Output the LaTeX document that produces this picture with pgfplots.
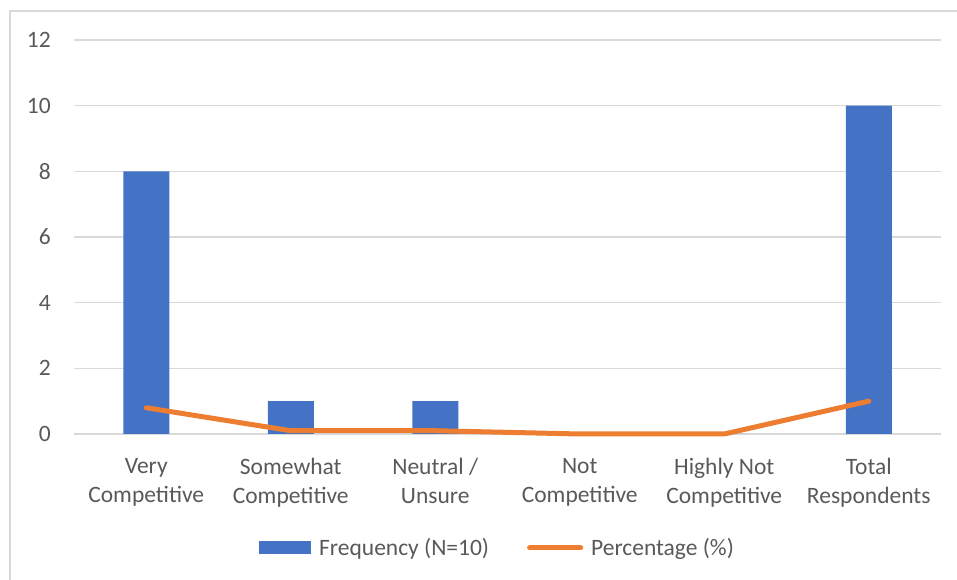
\documentclass[border=0pt]{standalone}
\usepackage{pgfplots}
\pgfplotsset{compat=1.18}
\usepackage{fontspec}
\setmainfont{Carlito}
\definecolor{barblue}{HTML}{4472C4}
\definecolor{lineorange}{HTML}{ED7D31}
\definecolor{gridgray}{HTML}{D9D9D9}
\definecolor{txtgray}{HTML}{595959}
\begin{document}
\begin{tikzpicture}[x=1pt,y=1pt,font=\fontsize{23.5}{29}\selectfont]
\path[use as bounding box] (0,0) rectangle (957,580);
\draw[gridgray, line width=1.5pt] (10,0) -- (10,569) -- (957,569);
\begin{axis}[
  at={(74pt,146pt)}, anchor=south west,
  scale only axis, width=867pt, height=394pt,
  xmin=-0.5, xmax=5.5, ymin=0, ymax=12,
  ytick={0,2,...,12},
  xtick={0,1,2,3,4,5},
  xticklabels={{Very\\Competitive},{Somewhat\\Competitive},{Neutral /\\Unsure},{Not\\Competitive},{Highly Not\\Competitive},{Total\\Respondents}},
  xticklabel style={align=center, anchor=north, inner sep=0pt, yshift=-24pt, text=txtgray},
  yticklabel style={anchor=east, inner sep=0pt, xshift=-23pt, text=txtgray},
  /pgf/number format/assume math mode=true,
  major tick length=0pt,
  axis line style={draw=none},
  ymajorgrids, grid style={gridgray, line width=1.3pt},
  clip=false,
  legend columns=2,
  legend style={at={(0.4885,-0.289)}, anchor=center, draw=none, fill=none, inner sep=0pt,
    text=txtgray, cells={anchor=west},
    /tikz/every odd column/.style={column sep=6pt},
    /tikz/every even column/.style={column sep=36pt}},
]
\addplot[ybar, bar width=46pt, fill=barblue, draw=none,
  legend image code/.code={\fill[barblue] (0pt,-6.5pt) rectangle (52pt,6.5pt);}]
  coordinates {(0,8) (1,1) (2,1) (3,0) (4,0) (5,10)};
\addlegendentry{Frequency (N=10)}
\addplot[lineorange, line width=5pt, line cap=round, line join=round, mark=none,
  legend image code/.code={\draw[lineorange, line width=5pt, line cap=round] (2.5pt,0pt) -- (53.5pt,0pt);}]
  coordinates {(0,0.8) (1,0.1) (2,0.1) (3,0) (4,0) (5,1)};
\addlegendentry{Percentage (\%)}
\end{axis}
\end{tikzpicture}
\end{document}
